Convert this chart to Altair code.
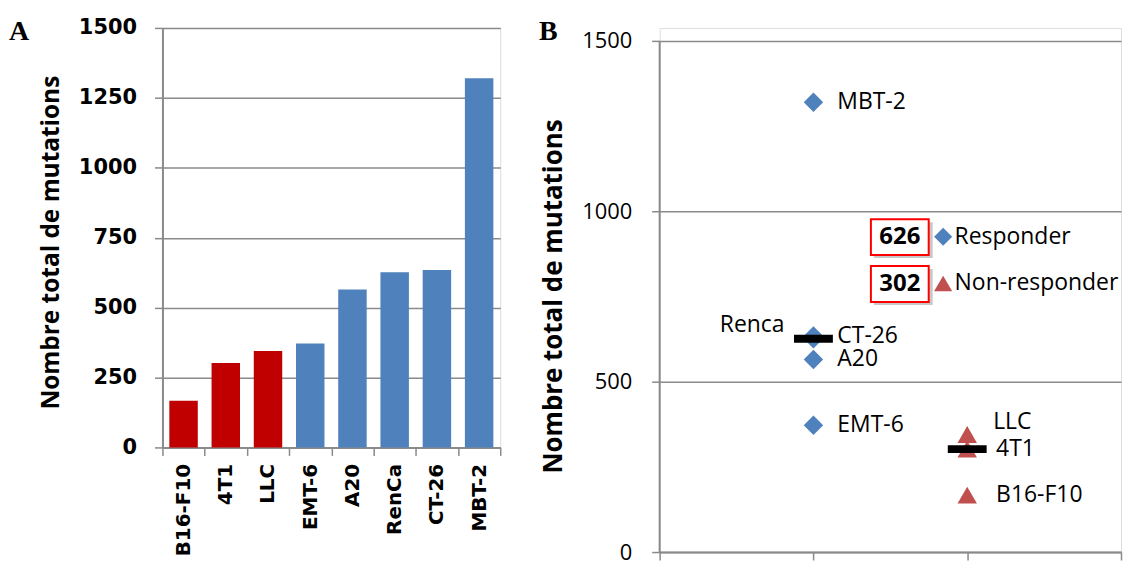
import altair as alt
import numpy as np
import pandas as pd

# ---------------- data ----------------
cell_lines = ["B16-F10", "4T1", "LLC", "EMT-6", "A20", "RenCa", "CT-26", "MBT-2"]
scatter_names = ["B16-F10", "4T1", "LLC", "EMT-6", "A20", "Renca", "CT-26", "MBT-2"]
mutations = [167, 302, 345, 372, 565, 626, 634, 1320]
response = ["Non-responder", "Non-responder", "Non-responder",
            "Responder", "Responder", "Responder", "Responder", "Responder"]
groups = ["Responder", "Non-responder"]
group_pos = [1, 2]
y_ticks_a = [0, 250, 500, 750, 1000, 1250, 1500]
y_ticks_b = [0, 500, 1000, 1500]
x_ticks_b = [0, 1, 2, 3]

pos_map = dict(zip(groups, group_pos))
df = pd.DataFrame({
    "bar_name": cell_lines,
    "name": scatter_names,
    "value": mutations,
    "response": response,
    "group": response,
    "pos": [pos_map[r] for r in response],
})
medians = [int(np.median([v for v, r in zip(mutations, response) if r == g])) for g in groups]

GRID = "#8a8a8a"
BLUE = "#4F81BD"
RED_BAR = "#C00000"
RED_PT = "#C0504D"

# ---------------- panel A ----------------
A_W, A_H = 339, 421
bars = alt.Chart(df).mark_bar(width=alt.RelativeBandSize(0.674)).encode(
    x=alt.X("bar_name:N", sort=cell_lines,
            scale=alt.Scale(paddingInner=0, paddingOuter=0),
            axis=alt.Axis(title=None, labelAngle=-90, labelFont="DejaVu Sans",
                          labelFontWeight="bold", labelFontSize=20, labelColor="black",
                          tickBand="extent", ticks=True, tickSize=8, tickColor=GRID,
                          tickWidth=1.5, domainColor=GRID, domainWidth=2,
                          labelPadding=8, grid=False)),
    y=alt.Y("value:Q", scale=alt.Scale(domain=[0, 1500], nice=False),
            axis=alt.Axis(values=y_ticks_a, format="d", title="Nombre total de mutations",
                          titleFont="Open Sans", titleFontWeight="bold", titleFontSize=24.5,
                          titleColor="black", titlePadding=15, titleY=215,
                          labelFont="DejaVu Sans", labelFontWeight="bold", labelFontSize=21,
                          labelColor="black", labelPadding=18,
                          grid=True, gridColor=GRID, gridWidth=1.5,
                          domainColor=GRID, domainWidth=2,
                          tickSize=8, tickColor=GRID, tickWidth=1.5)),
    color=alt.Color("response:N",
                    scale=alt.Scale(domain=["Non-responder", "Responder"], range=[RED_BAR, BLUE]),
                    legend=None),
)
letter_a = alt.Chart(pd.DataFrame({"t": ["A"]})).mark_text(
    font="Liberation Serif", fontWeight="bold", fontSize=28, align="left",
    baseline="alphabetic", color="black").encode(
    x=alt.value(-154), y=alt.value(12), text="t:N")
anchor_a = alt.Chart(pd.DataFrame({"t": ["."]})).mark_text(
    fontSize=10, baseline="top", align="left", opacity=0).encode(
    x=alt.value(-150), y=alt.value(-14), text="t:N")
panel_a = alt.layer(bars, letter_a, anchor_a).properties(width=A_W, height=A_H)

# ---------------- panel B ----------------
B_W, B_H = 463, 526
B_TOP = 1538  # domain top so that the 1500 gridline sits lower than panel A's
xb = alt.X("pos:Q", scale=alt.Scale(domain=[0, 3], nice=False),
           axis=alt.Axis(values=x_ticks_b, labels=False, title=None, grid=False,
                         tickSize=8, tickColor=GRID, tickWidth=1.5,
                         domainColor=GRID, domainWidth=2))
yb = alt.Y("value:Q", scale=alt.Scale(domain=[0, B_TOP], nice=False),
           axis=alt.Axis(values=y_ticks_b, format="d", title="Nombre total de mutations",
                         titleFont="Open Sans", titleFontWeight="bold", titleFontSize=26,
                         titleColor="black", titlePadding=15, titleY=269,
                         labelFont="Open Sans", labelFontSize=22, labelColor="black",
                         labelPadding=20, grid=True, gridColor=GRID, gridWidth=1.5,
                         domain=False, tickSize=8, tickColor=GRID, tickWidth=1.5))

legend_b = alt.Legend(title=None, orient="none", legendX=273, legendY=198,
                      labelFont="Open Sans", labelFontSize=23, labelColor="black",
                      labelLimit=400, symbolSize=330, labelOffset=0, rowPadding=23,
                      padding=0, symbolStrokeWidth=0)
points = alt.Chart(df).mark_point(filled=True, opacity=1, size=380).encode(
    x=xb, y=yb,
    shape=alt.Shape("group:N", scale=alt.Scale(domain=groups, range=["diamond", "triangle-up"]),
                    legend=legend_b),
    color=alt.Color("group:N", scale=alt.Scale(domain=groups, range=[BLUE, RED_PT]),
                    legend=legend_b),
)

axis_line = alt.Chart(pd.DataFrame({"y0": [y_ticks_b[0]], "y1": [y_ticks_b[-1]]})).mark_rule(
    color=GRID, strokeWidth=2).encode(x=alt.value(0), y=alt.Y("y0:Q"), y2="y1:Q")

median_bars = alt.Chart(df).mark_tick(orient="horizontal", size=39, thickness=8,
                                      color="black", opacity=1).encode(
    x=alt.X("pos:Q"), y=alt.Y("median(value):Q"))

lab_font = dict(font="Open Sans", fontSize=23, color="black", baseline="middle")
lab_resp = alt.Chart(df).transform_filter(
    "datum.group == 'Responder' && datum.name != 'Renca'").mark_text(
    align="left", dx=24, **lab_font).encode(x="pos:Q", y="value:Q", text="name:N")
lab_renca = alt.Chart(df).transform_filter("datum.name == 'Renca'").mark_text(
    align="right", dx=-29, dy=-14, **lab_font).encode(x="pos:Q", y="value:Q", text="name:N")
lab_llc = alt.Chart(df).transform_filter("datum.name == 'LLC'").mark_text(
    align="left", dx=26, dy=-12, **lab_font).encode(x="pos:Q", y="value:Q", text="name:N")
lab_non = alt.Chart(df).transform_filter(
    "datum.group == 'Non-responder' && datum.name != 'LLC'").mark_text(
    align="left", dx=29, **lab_font).encode(x="pos:Q", y="value:Q", text="name:N")

box_layers = []
box_tops = [192, 239]
for med, top in zip(medians, box_tops):
    d = pd.DataFrame({"t": [str(med)]})
    shadow = alt.Chart(d).mark_rect(fill="#9a9a9a", opacity=0.55).encode(
        x=alt.value(215), x2=alt.value(274), y=alt.value(top + 3), y2=alt.value(top + 39))
    box = alt.Chart(d).mark_rect(fill="white", stroke="#FF0000", strokeWidth=2).encode(
        x=alt.value(212), x2=alt.value(270), y=alt.value(top), y2=alt.value(top + 36))
    txt = alt.Chart(d).mark_text(font="Open Sans", fontWeight="bold", fontSize=24,
                                 color="black", align="center", baseline="middle").encode(
        x=alt.value(241), y=alt.value(top + 18), text="t:N")
    box_layers += [shadow, box, txt]

letter_b = alt.Chart(pd.DataFrame({"t": ["B"]})).mark_text(
    font="Liberation Serif", fontWeight="bold", fontSize=28, align="left",
    baseline="alphabetic", color="black").encode(
    x=alt.value(-121), y=alt.value(12), text="t:N")
anchor_b = alt.Chart(pd.DataFrame({"t": ["."]})).mark_text(
    fontSize=10, baseline="top", align="left", opacity=0).encode(
    x=alt.value(-127), y=alt.value(200), text="t:N")

panel_b = alt.layer(axis_line, points, median_bars, lab_resp, lab_renca, lab_llc, lab_non,
                    *box_layers, letter_b, anchor_b).properties(width=B_W, height=B_H)

chart = alt.hconcat(panel_a, panel_b, spacing=30).resolve_scale(
    color="independent", shape="independent", y="independent", x="independent"
).resolve_legend(
    color="independent", shape="independent"
).properties(
    padding={"top": 4, "left": 0, "right": 0, "bottom": 0}
).configure_view(stroke=None).configure(background="white")

chart.save("out.html", embed_options={"renderer": "svg", "actions": False})
